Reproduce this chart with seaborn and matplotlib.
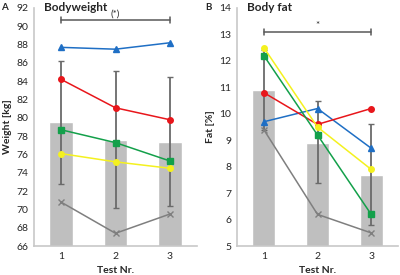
import numpy as np
import pandas as pd
import matplotlib
matplotlib.use('Agg')
import matplotlib.pyplot as plt
import seaborn as sns

tests = ['1', '2', '3']

# panel A - bodyweight
bw_mean = [79.5, 77.6, 77.4]
bw_lo = [72.8, 70.2, 70.4]
bw_hi = [86.2, 85.1, 84.5]
bw_blue = [87.7, 87.5, 88.2]
bw_red = [84.2, 81.1, 79.8]
bw_green = [78.7, 77.3, 75.3]
bw_yellow = [76.1, 75.2, 74.5]
bw_gray = [70.8, 67.4, 69.5]

# panel B - body fat
bf_mean = [10.9, 8.9, 7.7]
bf_lo = [9.4, 7.4, 5.8]
bf_hi = [12.4, 10.5, 9.6]
bf_blue = [9.7, 10.2, 8.7]
bf_red = [10.8, 9.6, 10.2]
bf_green = [12.2, 9.2, 6.2]
bf_yellow = [12.5, 9.5, 7.9]
bf_gray = [9.4, 6.2, 5.5]

sns.set_style('white')
plt.rcParams['font.family'] = ['Lato', 'DejaVu Sans']

fig = plt.figure(figsize=(4, 2.75), dpi=100)
axA = fig.add_axes([0.085, 0.105, 0.4075, 0.866])
axB = fig.add_axes([0.5925, 0.105, 0.4025, 0.866])


def panel(ax, mean, lo, hi, series, ylim, yticks, ylabel, title, letter, bracket_y, star):
    df = pd.DataFrame({'test': tests, 'val': mean})
    sns.barplot(data=df, x='test', y='val', color='#bfbfbf', width=0.43,
                saturation=1, ax=ax, zorder=1)
    x = np.arange(len(tests))
    m = np.array(mean)
    ax.errorbar(x, m, yerr=[m - np.array(lo), np.array(hi) - m], fmt='none',
                ecolor='#6a6a6a', elinewidth=1.3, capsize=2.5, capthick=1, zorder=2)
    styles = [
        (series[0], '#1f6fc5', '^'),
        (series[1], '#e8161b', 'o'),
        (series[2], '#13a04a', 's'),
        (series[3], '#f4f11f', 'o'),
        (series[4], '#7f7f7f', 'x'),
    ]
    for vals, col, mk in styles:
        ax.plot(x, vals, color=col, marker=mk, markersize=4, lw=1.1, zorder=3)
    ax.set_ylim(*ylim)
    ax.set_xlim(-0.5, 2.5)
    ax.set_yticks(yticks)
    ax.set_xlabel('Test Nr.', fontsize=7.5, fontweight='bold')
    ax.set_ylabel(ylabel, fontsize=7.5, fontweight='bold', labelpad=3)
    ax.tick_params(labelsize=7.5, length=0, pad=4)
    for s in ['top', 'right']:
        ax.spines[s].set_visible(False)
    for s in ['left', 'bottom']:
        ax.spines[s].set_color('#c8c8c8')
        ax.spines[s].set_linewidth(1.2)
    ax.text(0.06, 1.0, title, transform=ax.transAxes, fontsize=8.5,
            fontweight='bold', va='center', ha='left')
    ax.text(-0.2, 1.0, letter, transform=ax.transAxes, fontsize=7,
            fontweight='bold', va='center', ha='left')
    # significance bracket
    ax.plot([0, 2], [bracket_y, bracket_y], color='#595959', lw=1.1)
    dy = (ylim[1] - ylim[0]) * 0.012
    for xx in [0, 2]:
        ax.plot([xx, xx], [bracket_y - dy, bracket_y + dy], color='#595959', lw=1.1)
    ax.text(1, bracket_y + dy * 0.6, star, ha='center', va='bottom', fontsize=7)


panel(axA, bw_mean, bw_lo, bw_hi, [bw_blue, bw_red, bw_green, bw_yellow, bw_gray],
      (66, 92), np.arange(66, 93, 2), 'Weight [kg]', 'Bodyweight', 'A', 90.7, '(*)')
panel(axB, bf_mean, bf_lo, bf_hi, [bf_blue, bf_red, bf_green, bf_yellow, bf_gray],
      (5, 14), np.arange(5, 15, 1), 'Fat [%]', 'Body fat', 'B', 13.1, '*')

fig.savefig('out.png', dpi=100)
